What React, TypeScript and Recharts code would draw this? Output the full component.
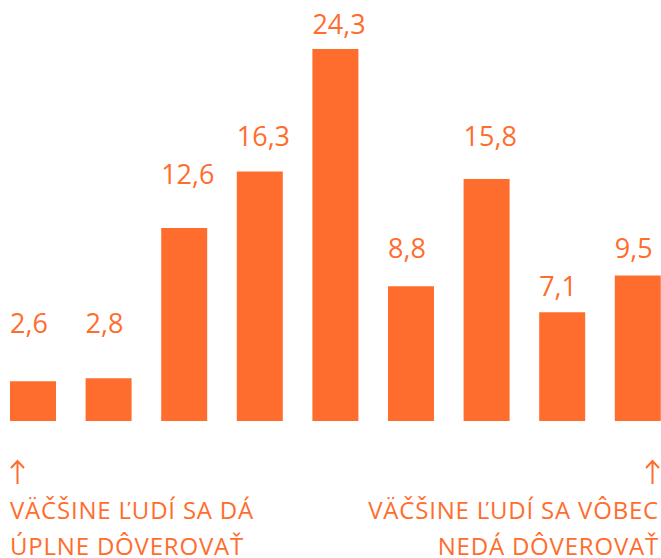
import { BarChart, Bar, XAxis, YAxis, LabelList } from "recharts";

const categories = ["1", "2", "3", "4", "5", "6", "7", "8", "9"];
const shares = [2.6, 2.8, 12.6, 16.3, 24.3, 8.8, 15.8, 7.1, 9.5];

const leftNote = ["VÄČŠINE ĽUDÍ SA DÁ", "ÚPLNE DÔVEROVAŤ"];
const rightNote = ["VÄČŠINE ĽUDÍ SA VÔBEC", "NEDÁ DÔVEROVAŤ"];

const data = categories.map((c, i) => ({ name: c, value: shares[i] }));

const ORANGE = "#FF6D2E";
const FONT = "'Open Sans', sans-serif";

// labels sit on a row grid above the bars
const ROW = 37.4;
const FIRST_ROW = 34;

const ValueLabel = (props: any) => {
  const { x, y, value } = props;
  const k = Math.max(0, Math.floor((y - 15 - FIRST_ROW) / ROW));
  const baseline = FIRST_ROW + k * ROW;
  return (
    <text
      x={x}
      y={baseline}
      fill={ORANGE}
      fontSize={27}
      fontFamily={FONT}
      textAnchor="start"
    >
      {Number(value).toFixed(1).replace(".", ",")}
    </text>
  );
};

const Arrow = ({ x }: { x: number }) => (
  <path
    d={`M${x},484 L${x},461 M${x - 6.5},468 L${x},461 L${x + 6.5},468`}
    stroke={ORANGE}
    strokeWidth={2}
    fill="none"
  />
);

export default function App() {
  return (
    <div
      style={{
        position: "absolute",
        left: 0,
        top: 0,
        width: 661,
        height: 558,
        overflow: "hidden",
        background: "#fff",
      }}
    >
      <div style={{ position: "absolute", left: -4.8, top: 0 }}>
        <BarChart
          width={680.4}
          height={430}
          data={data}
          margin={{ top: 49, right: 0, bottom: 9, left: 0 }}
          barSize={46}
        >
          <XAxis dataKey="name" hide />
          <YAxis hide domain={[0, 24.3]} />
          <Bar dataKey="value" fill={ORANGE} isAnimationActive={false}>
            <LabelList dataKey="value" content={ValueLabel} />
          </Bar>
        </BarChart>
      </div>

      <svg
        width={661}
        height={558}
        style={{ position: "absolute", left: 0, top: 0 }}
      >
        <Arrow x={17.5} />
        <Arrow x={652.5} />
        <g fill={ORANGE} fontFamily={FONT} fontSize={24} letterSpacing={0.8}>
          {leftNote.map((l, i) => (
            <text key={l} x={10} y={519 + i * 36} textAnchor="start">
              {l}
            </text>
          ))}
          {rightNote.map((l, i) => (
            <text key={l} x={659} y={519 + i * 36} textAnchor="end">
              {l}
            </text>
          ))}
        </g>
      </svg>
    </div>
  );
}
